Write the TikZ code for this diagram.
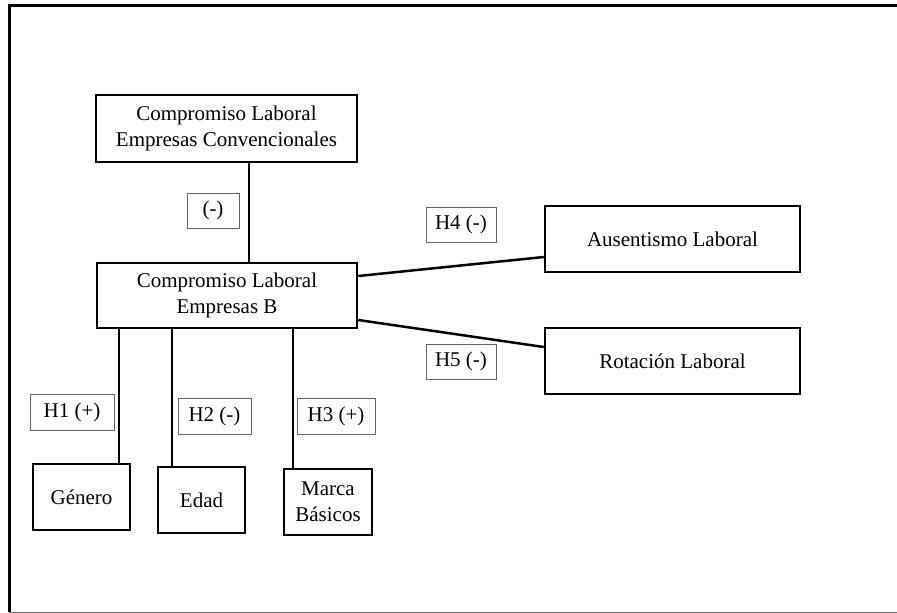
\documentclass[tikz,border=0pt]{standalone}
\usepackage{fontspec}
\setmainfont{Liberation Serif}
\usepackage{tikz}
\usetikzlibrary{shapes, positioning, calc}

\tikzset{
    varbox/.style={draw, line width=2.5pt, align=center, inner sep=2pt,
        font=\fontsize{21}{26}\selectfont},
    hypbox/.style={draw=black!60, line width=0.8pt, minimum height=35pt,
        inner sep=2pt, font=\fontsize{21}{26}\selectfont},
    link/.style={line width=2.5pt}
}

\begin{document}
\begin{tikzpicture}[x=1pt, y=1pt]

        \useasboundingbox (0,0) rectangle (897,-613);

        % frame
        \draw[line width=3pt] (897,-5) -- (9,-5) -- (9,-612);
        \draw[black!60, line width=1pt] (9,-612) -- (897,-612);

        % variables
        \node[varbox, minimum width=261pt, minimum height=67pt] (conv) at (226.5,-128.5) {Compromiso Laboral\\Empresas Convencionales};
        \node[varbox, minimum width=260pt, minimum height=65pt] (empb) at (227,-295.5) {Compromiso Laboral\\Empresas B};
        \node[varbox, minimum width=255pt, minimum height=66pt] (aus) at (672.5,-239) {Ausentismo Laboral};
        \node[varbox, minimum width=255pt, minimum height=66pt] (rot) at (672.5,-361) {Rotación Laboral};
        \node[varbox, minimum width=97pt, minimum height=66pt] (gen) at (81.5,-497) {Género};
        \node[varbox, minimum width=87pt, minimum height=66pt] (edad) at (201.5,-500) {Edad};
        \node[varbox, minimum width=88pt, minimum height=66pt] (marca) at (328,-502) {Marca\\Básicos};

        % hypotheses
        \node[hypbox, minimum width=52pt] (hconv) at (213,-210.5) {(-)};
        \node[hypbox, minimum width=70pt] (h4) at (461,-224.5) {H4 (-)};
        \node[hypbox, minimum width=70pt] (h5) at (461,-361.5) {H5 (-)};
        \node[hypbox, minimum width=84pt, minimum height=36pt] (h1) at (72,-412) {H1 (+)};
        \node[hypbox, minimum width=73pt, minimum height=36pt] (h2) at (214.5,-416) {H2 (-)};
        \node[hypbox, minimum width=78pt, minimum height=36pt] (h3) at (336,-416) {H3 (+)};

        % links
        \draw[link] ([xshift=22.5pt]conv.south) -- ([xshift=22.5pt]conv.south |- empb.north);
        \draw[link] ([yshift=19.5pt]empb.east) -- ([yshift=-18pt]aus.west);
        \draw[link] ([yshift=-24.5pt]empb.east) -- ([yshift=14pt]rot.west);
        \draw[link] ([xshift=37.5pt]gen.north) -- ([xshift=37.5pt]gen.north |- empb.south);
        \draw[link] ([xshift=-29.5pt]edad.north) -- ([xshift=-29.5pt]edad.north |- empb.south);
        \draw[link] ([xshift=-35pt]marca.north) -- ([xshift=-35pt]marca.north |- empb.south);

\end{tikzpicture}
\end{document}
